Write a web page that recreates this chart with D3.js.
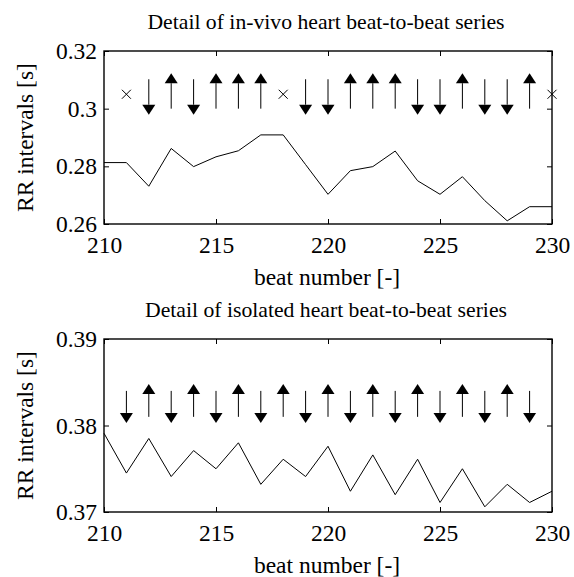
<!DOCTYPE html>
<html><head><meta charset="utf-8">
<script src="https://cdn.jsdelivr.net/npm/d3@7"></script>
<style>
html,body{margin:0;padding:0;background:#fff;}
svg{display:block;}
text{font-family:"Liberation Serif","Times New Roman",serif;fill:#000;}
</style></head>
<body>
<script>
// ---- data ----
const beats = d3.range(210, 231);
const invivoRR = [0.2813,0.2813,0.2731,0.2862,0.2799,0.2833,0.2854,0.2909,0.2909,0.2806,0.2703,
                  0.2785,0.2799,0.2853,0.2750,0.2703,0.2764,0.2681,0.2611,0.2660,0.2660];
const isolatedRR = [0.3791,0.3745,0.3785,0.3741,0.3771,0.3750,0.3780,0.3732,0.3761,0.3741,0.3776,
                    0.3724,0.3766,0.3720,0.3761,0.3711,0.3750,0.3706,0.3732,0.3711,0.3724];
const invivoMarkBeats = d3.range(211, 231);
const invivoMarks = ['x','d','u','d','u','u','u','x','d','d','u','u','u','d','d','u','d','d','u','x'];
const isolatedMarkBeats = d3.range(211, 230);
const isolatedMarks = ['d','u','d','u','d','u','d','u','d','u','d','u','d','u','d','u','d','u','d'];
const invivoYTicks = [0.26, 0.28, 0.30, 0.32];
const invivoYTickLabels = ['0.26','0.28','0.3','0.32'];
const isolatedYTicks = [0.37, 0.38, 0.39];
const isolatedYTickLabels = ['0.37','0.38','0.39'];
const xTicks = [210, 215, 220, 225, 230];
const titles = ['Detail of in-vivo heart beat-to-beat series', 'Detail of isolated heart beat-to-beat series'];
const xLabel = 'beat number [-]';
const yLabel = 'RR intervals [s]';
// arrow extents in data units: up [base, tip], down [top, tip], cross level
const invivoArrow = {up:[0.300, 0.3123], down:[0.3102, 0.2979], cross:0.305};
const isolatedArrow = {up:[0.3810, 0.3848], down:[0.3840, 0.3803], cross:0.3825};

const W = 574, H = 577;
const svg = d3.select('body').append('svg').attr('width', W).attr('height', H);

const SERIF = '"Liberation Serif","Times New Roman",serif';
const FS = 23.5;

function panel(cfg){
  const {top, bottom, left, right, ydom, yticks, ylabels, rr, markBeats, marks, arrow, title} = cfg;
  const x = d3.scaleLinear().domain([210, 230]).range([left, right]);
  const y = d3.scaleLinear().domain(ydom).range([bottom, top]);
  const g = svg.append('g');

  // title
  g.append('text').attr('x', (left+right)/2 - 2).attr('y', top - 22)
    .attr('text-anchor','middle').style('font-family',SERIF).style('font-size','21.7px').text(title);

  // axes with inward ticks
  const tl = 5;
  g.append('g').attr('transform',`translate(0,${bottom})`)
    .call(d3.axisBottom(x).tickValues(xTicks).tickSizeInner(-tl).tickSizeOuter(0).tickPadding(12.3).tickFormat(d3.format('d')))
    .call(a=>{a.select('.domain').remove(); a.attr('font-family',null).attr('font-size',null);
      a.selectAll('text').style('font-family',SERIF).style('font-size',FS+'px');});
  g.append('g').attr('transform',`translate(0,${top})`)
    .call(d3.axisTop(x).tickValues(xTicks).tickSizeInner(-tl).tickSizeOuter(0).tickFormat(''))
    .call(a=>a.select('.domain').remove());
  g.append('g').attr('transform',`translate(${left},0)`)
    .call(d3.axisLeft(y).tickValues(yticks).tickSizeInner(-tl).tickSizeOuter(0).tickPadding(7)
      .tickFormat((d,i)=>ylabels[i]))
    .call(a=>{a.select('.domain').remove(); a.attr('font-family',null).attr('font-size',null);
      a.selectAll('text').style('font-family',SERIF).style('font-size',FS+'px');});
  g.append('g').attr('transform',`translate(${right},0)`)
    .call(d3.axisRight(y).tickValues(yticks).tickSizeInner(-tl).tickSizeOuter(0).tickFormat(''))
    .call(a=>a.select('.domain').remove());
  g.selectAll('.tick line').attr('stroke','#000').attr('stroke-width',1);

  // box
  g.append('rect').attr('x', left).attr('y', top).attr('width', right-left).attr('height', bottom-top)
    .attr('fill','none').attr('stroke','#000').attr('stroke-width',1.4);

  // data line
  g.append('path').datum(beats.map((b,i)=>[b, rr[i]]))
    .attr('d', d3.line().x(d=>x(d[0])).y(d=>y(d[1])))
    .attr('fill','none').attr('stroke','#000').attr('stroke-width',1);

  // markers
  const hw = 6.5, hh = 10;
  markBeats.forEach((b,i)=>{
    const m = marks[i], cx = x(b);
    if (m === 'x'){
      const cy = y(arrow.cross), s = 4.5;
      g.append('path').attr('d',`M${cx-s},${cy-s}L${cx+s},${cy+s}M${cx-s},${cy+s}L${cx+s},${cy-s}`)
        .attr('stroke','#000').attr('stroke-width',1).attr('fill','none');
    } else if (m === 'u'){
      const y0 = y(arrow.up[0]), y1 = y(arrow.up[1]);
      g.append('line').attr('x1',cx).attr('x2',cx).attr('y1',y0).attr('y2',y1+hh)
        .attr('stroke','#000').attr('stroke-width',1);
      g.append('path').attr('d',`M${cx},${y1}L${cx+hw},${y1+hh}L${cx-hw},${y1+hh}Z`).attr('fill','#000');
    } else {
      const y0 = y(arrow.down[0]), y1 = y(arrow.down[1]);
      g.append('line').attr('x1',cx).attr('x2',cx).attr('y1',y0).attr('y2',y1-hh)
        .attr('stroke','#000').attr('stroke-width',1);
      g.append('path').attr('d',`M${cx},${y1}L${cx+hw},${y1-hh}L${cx-hw},${y1-hh}Z`).attr('fill','#000');
    }
  });

  // axis labels
  g.append('text').attr('x',(left+right)/2 - 1).attr('y', bottom + 61)
    .attr('text-anchor','middle').style('font-family',SERIF).style('font-size',FS+'px').text(xLabel);
  g.append('text').attr('transform',`translate(25,${(top+bottom)/2}) rotate(-90)`)
    .attr('text-anchor','middle').attr('dominant-baseline','central').style('font-family',SERIF).style('font-size',FS+'px').text(yLabel);
}

panel({top:51, bottom:224, left:104, right:552, ydom:[0.26,0.32], yticks:invivoYTicks, ylabels:invivoYTickLabels,
  rr:invivoRR, markBeats:invivoMarkBeats, marks:invivoMarks, arrow:invivoArrow, title:titles[0]});
panel({top:339, bottom:512, left:104, right:552, ydom:[0.37,0.39], yticks:isolatedYTicks, ylabels:isolatedYTickLabels,
  rr:isolatedRR, markBeats:isolatedMarkBeats, marks:isolatedMarks, arrow:isolatedArrow, title:titles[1]});
</script>
</body></html>
